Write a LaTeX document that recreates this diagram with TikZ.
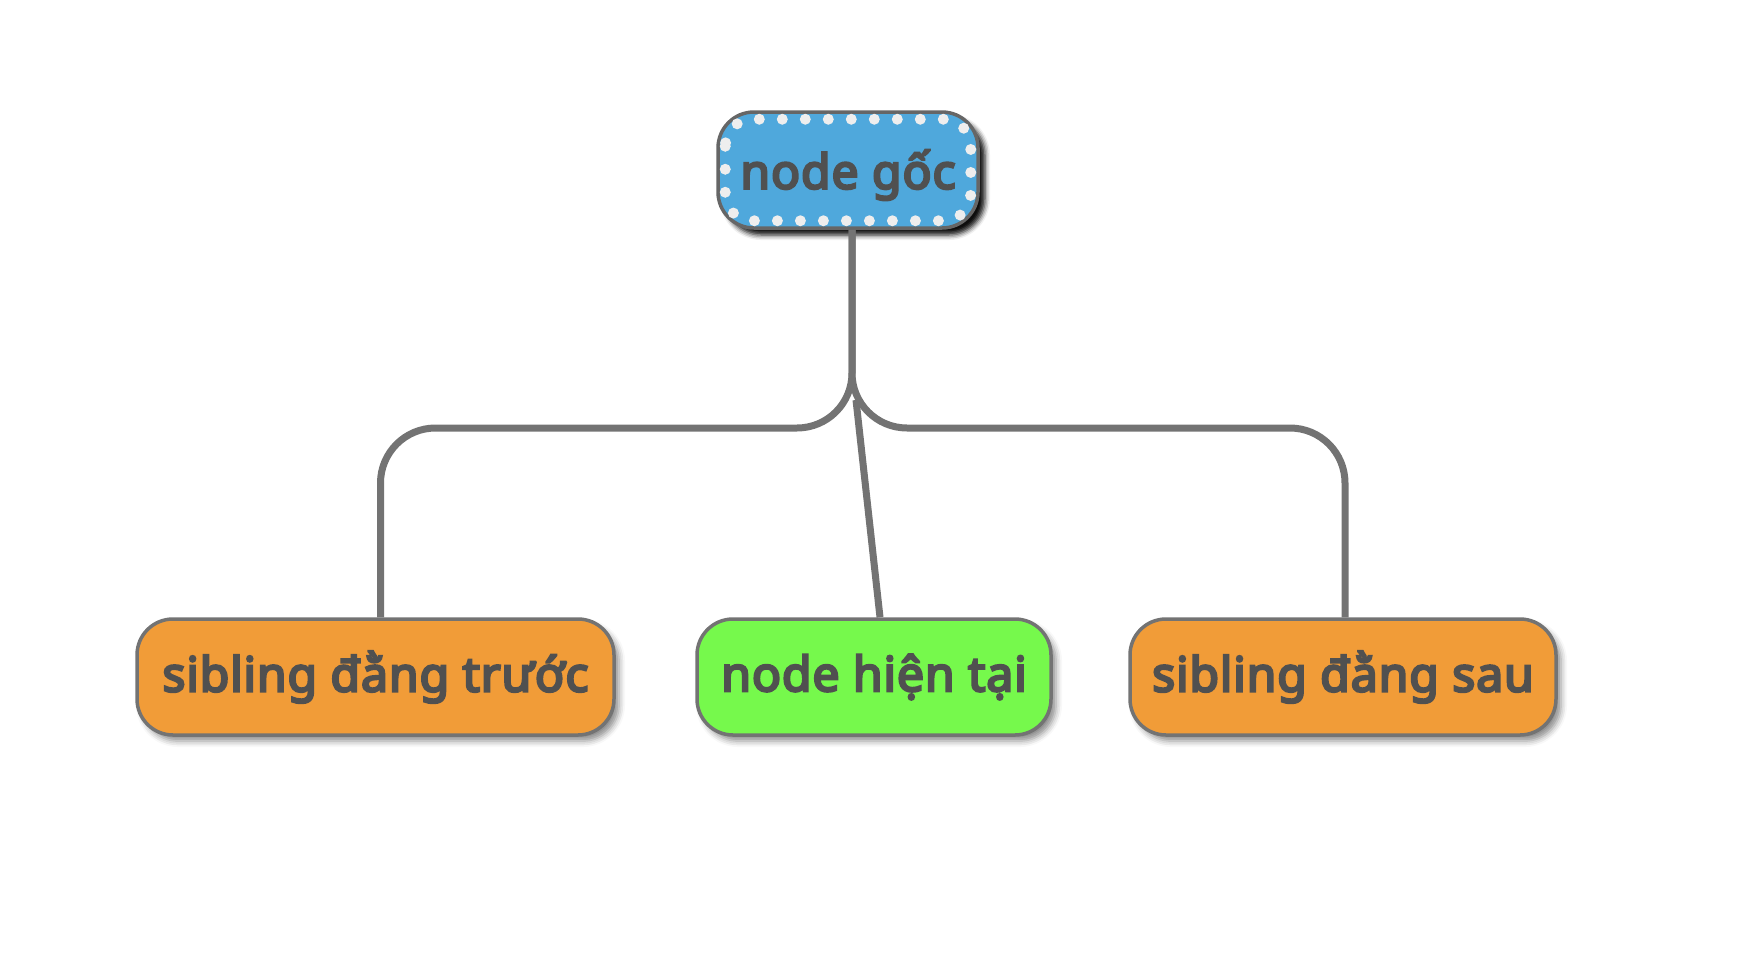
\documentclass[tikz,border=0pt]{standalone}
\usepackage{fontspec}
\setmainfont{Noto Sans}
\newfontfamily\lblfont{Noto Sans}[FakeBold=5,LetterSpace=2]
\usetikzlibrary{shadows.blur,calc}
\definecolor{txt}{HTML}{505050}
\definecolor{edge}{HTML}{737373}
\definecolor{rootfill}{HTML}{4FA8DC}
\definecolor{sibfill}{HTML}{F19C38}
\definecolor{curfill}{HTML}{76F94C}
\definecolor{dotc}{HTML}{EEEEEE}
\tikzset{
  lbl/.style={text=txt, font=\fontsize{48}{54}\lblfont},
  box/.style={draw=edge, line width=3.5pt, rounded corners=36pt, minimum height=116pt,
    inner sep=0pt, lbl},
  kidbox/.style={box, blur shadow={shadow xshift=5pt, shadow yshift=-6pt, shadow blur radius=6pt, shadow opacity=45}},
  rootbox/.style={box, draw=black!60, fill=rootfill,
    blur shadow={shadow xshift=7pt, shadow yshift=-7pt, shadow blur radius=5pt, shadow opacity=95}},
  conn/.style={draw=edge, line width=7pt},
  dots/.style={draw=dotc, line width=11pt, dash pattern=on 0pt off 23pt, line cap=round, rounded corners=27pt}
}
\begin{document}
\begin{tikzpicture}[x=1pt,y=1pt]
\useasboundingbox (0,0) rectangle (1740,-956);
\node[rootbox, minimum width=260pt] (root) at (848,-170) {};
\draw[dots] ($(root.north west)+(9,-9)$) rectangle ($(root.south east)+(-9,9)$);
\node[lbl] (roottxt) at ($(root.center)+(0,-5)$) {node gốc};
\node[kidbox, fill=sibfill, minimum width=477pt] (prev) at (375.5,-677) {\raisebox{-7pt}{sibling đằng trước}};
\node[kidbox, fill=curfill, minimum width=354pt] (cur) at (874,-677) {\raisebox{-7pt}{node hiện tại}};
\node[kidbox, fill=sibfill, minimum width=426pt] (next) at (1343,-677) {\raisebox{-7pt}{sibling đằng sau}};
\coordinate (top) at ($(root.south)+(4,0)$);
\coordinate (bus) at (0,-428);
\coordinate (fork) at (856,-400);
\coordinate (pin) at ($(prev.north)+(5,0)$);
\coordinate (nin) at ($(next.north)+(2,0)$);
\draw[conn, rounded corners=55pt] (top) -- (top |- bus) -| (pin);
\draw[conn, rounded corners=55pt] (top) -- (top |- bus) -| (nin);
\draw[conn] (fork) -- ($(cur.north)+(6,0)$);
\end{tikzpicture}
\end{document}
